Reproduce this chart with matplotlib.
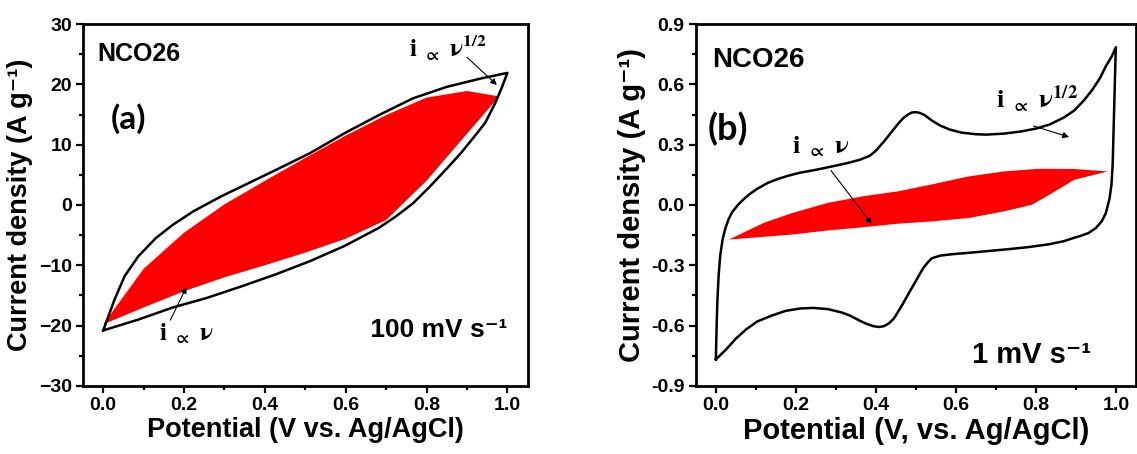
import matplotlib
matplotlib.use("Agg")
import matplotlib.pyplot as plt
from matplotlib.ticker import MultipleLocator

plt.rcParams['font.family'] = ['Liberation Sans', 'DejaVu Sans']
plt.rcParams['font.weight'] = 'bold'
plt.rcParams['axes.labelweight'] = 'bold'
plt.rcParams['mathtext.fontset'] = 'stix'

# ---- (a) NCO26, 100 mV/s ----
a_up_x = [0.0, 0.028, 0.053, 0.087, 0.130, 0.172, 0.223, 0.291, 0.359, 0.427, 0.512,
          0.597, 0.682, 0.767, 0.851, 0.936, 1.0]
a_up_y = [-20.8, -15.7, -11.8, -8.5, -5.5, -3.3, -1.05, 1.4, 3.6, 5.8, 8.6,
          11.9, 14.9, 17.7, 19.6, 21.0, 21.9]
a_dn_x = [1.0, 0.987, 0.970, 0.945, 0.919, 0.885, 0.851, 0.809, 0.767, 0.724, 0.682,
          0.597, 0.512, 0.427, 0.342, 0.257, 0.172, 0.087, 0.0]
a_dn_y = [21.9, 19.6, 16.9, 13.6, 11.4, 8.6, 6.1, 3.1, 0.3, -1.9, -3.8,
          -6.8, -9.3, -11.5, -13.5, -15.4, -17.0, -19.0, -20.8]

a_red_up_x = [0.0, 0.1, 0.2, 0.3, 0.4, 0.5, 0.6, 0.7, 0.8, 0.9, 0.98]
a_red_up_y = [-19.8, -10.6, -4.6, 0.1, 4.0, 7.8, 11.5, 14.9, 17.8, 18.9, 18.0]
a_red_dn_x = [0.98, 0.9, 0.8, 0.7, 0.6, 0.5, 0.4, 0.3, 0.2, 0.1, 0.0]
a_red_dn_y = [18.0, 11.8, 4.0, -2.5, -5.6, -7.9, -10.0, -12.0, -14.3, -17.0, -19.8]

# ---- (b) NCO26, 1 mV/s ----
b_up_x = [0.0, 0.002, 0.004, 0.007, 0.011, 0.017, 0.024, 0.032, 0.041, 0.055, 0.068,
          0.085, 0.103, 0.13, 0.156, 0.18, 0.209, 0.25, 0.279, 0.31, 0.332, 0.36,
          0.385, 0.40, 0.42, 0.44, 0.456, 0.47, 0.482, 0.49, 0.5, 0.51, 0.522,
          0.54, 0.561, 0.585, 0.614, 0.65, 0.676, 0.72, 0.764, 0.80, 0.834, 0.87,
          0.896, 0.92, 0.94, 0.96, 0.975, 0.99, 1.0]
b_up_y = [-0.768, -0.6, -0.47, -0.35, -0.25, -0.17, -0.115, -0.07, -0.035, 0.0, 0.026,
          0.055, 0.08, 0.11, 0.13, 0.145, 0.16, 0.175, 0.187, 0.2, 0.21, 0.225,
          0.245, 0.27, 0.315, 0.365, 0.405, 0.435, 0.452, 0.46, 0.462, 0.458, 0.447,
          0.42, 0.395, 0.375, 0.36, 0.352, 0.35, 0.355, 0.366, 0.38, 0.40, 0.435,
          0.47, 0.52, 0.57, 0.63, 0.69, 0.74, 0.785]
b_dn_x = [1.0, 0.998, 0.996, 0.994, 0.992, 0.989, 0.984, 0.975, 0.965, 0.95, 0.931,
          0.91, 0.896, 0.87, 0.834, 0.78, 0.72, 0.632, 0.59, 0.561, 0.54, 0.53,
          0.518, 0.508, 0.495, 0.482, 0.468, 0.456, 0.445, 0.432, 0.42, 0.408, 0.394,
          0.375, 0.359, 0.335, 0.315, 0.28, 0.244, 0.21, 0.174, 0.14, 0.103, 0.075,
          0.05, 0.025, 0.0]
b_dn_y = [0.785, 0.65, 0.5, 0.35, 0.2, 0.1, 0.03, -0.04, -0.08, -0.115, -0.14,
          -0.155, -0.163, -0.18, -0.195, -0.21, -0.222, -0.238, -0.245, -0.252, -0.265, -0.285,
          -0.315, -0.35, -0.395, -0.44, -0.49, -0.53, -0.565, -0.59, -0.603, -0.607, -0.603,
          -0.59, -0.575, -0.55, -0.535, -0.518, -0.512, -0.515, -0.527, -0.55, -0.58, -0.62,
          -0.665, -0.72, -0.768]

b_red_up_x = [0.033, 0.12, 0.191, 0.279, 0.367, 0.456, 0.544, 0.632, 0.72, 0.808, 0.896, 0.98]
b_red_up_y = [-0.172, -0.089, -0.04, 0.01, 0.043, 0.068, 0.104, 0.142, 0.167, 0.18, 0.179, 0.167]
b_red_dn_x = [0.98, 0.896, 0.834, 0.79, 0.72, 0.632, 0.544, 0.456, 0.367, 0.279, 0.191, 0.103, 0.033]
b_red_dn_y = [0.167, 0.125, 0.051, 0.001, -0.032, -0.065, -0.081, -0.093, -0.111, -0.127, -0.147, -0.161, -0.172]

fig = plt.figure(figsize=(11.37, 4.54), dpi=100)
ax1 = fig.add_axes([0.073, 0.150, 0.391, 0.797])
ax2 = fig.add_axes([0.612, 0.150, 0.387, 0.797])


def style(ax, ymaj, ymin, tick_fs):
    for s in ax.spines.values():
        s.set_linewidth(2.0)
    ax.xaxis.set_major_locator(MultipleLocator(0.2))
    ax.xaxis.set_minor_locator(MultipleLocator(0.1))
    ax.yaxis.set_major_locator(MultipleLocator(ymaj))
    ax.yaxis.set_minor_locator(MultipleLocator(ymin))
    ax.tick_params(which='both', direction='out', top=False, right=False, width=1.6)
    ax.tick_params(which='major', length=5, labelsize=tick_fs, pad=3)
    ax.tick_params(which='minor', length=3)
    ax.set_xlim(-0.05, 1.05)


arrow = dict(arrowstyle='-|>', lw=0.8, color='black', mutation_scale=9, shrinkA=0, shrinkB=0)

# panel (a)
ax1.fill(a_red_up_x + a_red_dn_x, a_red_up_y + a_red_dn_y, color='#ff0000', lw=0)
ax1.plot(a_up_x + a_dn_x, a_up_y + a_dn_y, color='black', lw=1.8)
style(ax1, 10, 5, 14)
ax1.set_ylim(-30, 30)
ax1.set_xticks([0.0, 0.2, 0.4, 0.6, 0.8, 1.0])
ax1.set_xticklabels(['0.0', '0.2', '0.4', '0.6', '0.8', '1.0'])
ax1.set_xlabel('Potential (V vs. Ag/AgCl)', fontsize=19.5, labelpad=2)
ax1.set_ylabel('Current density (A g⁻¹)', fontsize=19.5, labelpad=4)
ax1.text(-0.015, 25.0, 'NCO26', fontsize=18, va='center', ha='left')
ax1.text(0.018, 14.4, '(a)', fontsize=24, family='Lato', va='center', ha='left')
ax1.text(0.643, -20.7, ' 100 mV s⁻¹', fontsize=19, va='center', ha='left')
ax1.annotate(r'$\mathbf{i}\ {}_{\propto}\ \mathbf{\nu}^{1/2}$', xy=(0.974, 19.9), xytext=(0.757, 24.4),
             ha='left', va='baseline', fontsize=18)
ax1.annotate('', xy=(0.974, 19.9), xytext=(0.90, 24.5), arrowprops=arrow)
ax1.annotate('', xy=(0.206, -13.6), xytext=(0.166, -19.1), arrowprops=arrow)
ax1.text(0.137, -22.4, r'$\mathbf{i}\ {}_{\propto}\ \mathbf{\nu}$', ha='left', va='baseline', fontsize=18)

# panel (b)
ax2.fill(b_red_up_x + b_red_dn_x, b_red_up_y + b_red_dn_y, color='#ff0000', lw=0)
ax2.plot(b_up_x + b_dn_x, b_up_y + b_dn_y, color='black', lw=1.8)
style(ax2, 0.3, 0.15, 14)
ax2.set_ylim(-0.9, 0.9)
ax2.set_yticks([-0.9, -0.6, -0.3, 0.0, 0.3, 0.6, 0.9])
ax2.set_yticklabels(['-0.9', '-0.6', '-0.3', '0.0', '0.3', '0.6', '0.9'])
ax2.set_xlabel('Potential (V, vs. Ag/AgCl)', fontsize=21, labelpad=2)
ax2.set_ylabel('Current density (A g⁻¹)', fontsize=21, labelpad=4)
ax2.text(-0.01, 0.72, 'NCO26', fontsize=20, va='center', ha='left')
ax2.text(-0.02, 0.38, '(b)', fontsize=26, family='Lato', va='center', ha='left')
ax2.text(0.64, -0.747, '1 mV s⁻¹', fontsize=21, va='center', ha='left')
ax2.text(0.70, 0.482, r'$\mathbf{i}\ {}_{\propto}\ \mathbf{\nu}^{1/2}$', ha='left', va='baseline', fontsize=19)
ax2.annotate('', xy=(0.883, 0.338), xytext=(0.794, 0.393), arrowprops=arrow)
ax2.text(0.19, 0.258, r'$\mathbf{i}\ {}_{\propto}\ \mathbf{\nu}$', ha='left', va='baseline', fontsize=19)
ax2.annotate('', xy=(0.39, -0.095), xytext=(0.288, 0.171), arrowprops=arrow)

fig.savefig('out.png', dpi=100)
